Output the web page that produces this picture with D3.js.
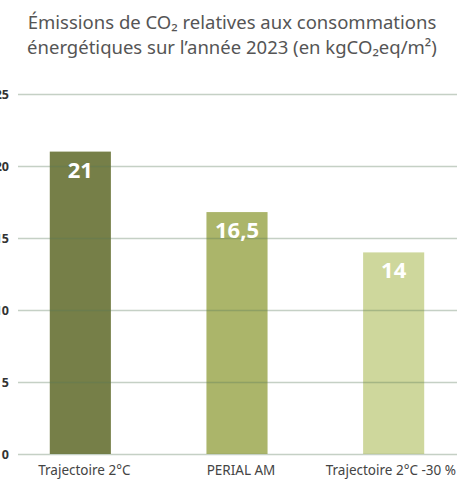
<!DOCTYPE html>
<html>
<head>
<meta charset="utf-8">
<script src="https://cdn.jsdelivr.net/npm/d3@7"></script>
<style>
  body { margin: 0; background: #fff; }
  svg { display: block; font-family: "Noto Sans", "Open Sans", sans-serif; }
</style>
</head>
<body>
<svg id="svg" width="457" height="479"></svg>
<script>
const w = 457;
const h = 479;

const categories = ["Trajectoire 2°C", "PERIAL AM", "Trajectoire 2°C -30 %"];
const values = [21, 16.8, 14];
const valueLabels = ["21", "16,5", "14"];
const barColors = ["#767f48", "#abb56a", "#ced79c"];
const yTicks = [0, 5, 10, 15, 20, 25];
const titleLines = [
  "Émissions de CO₂ relatives aux consommations",
  "énergétiques sur l’année 2023 (en kgCO₂eq/m²)"
];

let svg = d3.select("#svg");

let xScale = d3.scaleBand(categories, [2, 472]).paddingInner(0.61).paddingOuter(0.305);
let yScale = d3.scaleLinear([0, 25], [454, 94]);

// title
svg.append("g")
  .selectAll("text")
  .data(titleLines)
  .join("text")
  .attr("x", 232)
  .attr("y", (d, i) => 29 + i * 25)
  .attr("text-anchor", "middle")
  .attr("font-size", 18.5)
  .attr("fill", "#555")
  .text((d) => d);

// bars
svg.append("g")
  .selectAll("rect")
  .data(values)
  .join("rect")
  .attr("x", (d, i) => xScale(categories[i]))
  .attr("y", (d) => yScale(d))
  .attr("width", xScale.bandwidth())
  .attr("height", (d) => yScale(0) - yScale(d))
  .attr("fill", (d, i) => barColors[i]);

// gridlines drawn over the bars
let yAxis = d3.axisLeft(yScale).tickValues(yTicks).tickSize(-(w - 18)).tickPadding(9);
let gy = svg.append("g").attr("transform", "translate(18,0)").call(yAxis);
gy.select(".domain").remove();
gy.selectAll(".tick line")
  .attr("stroke", "rgba(90,120,90,0.35)")
  .attr("stroke-width", 1.6);
gy.selectAll(".tick text")
  .attr("font-size", 12.5)
  .attr("font-weight", "bold")
  .attr("fill", "#333")
  .attr("font-family", "'Noto Sans', sans-serif");

// value labels
svg.append("g")
  .selectAll("text")
  .data(values)
  .join("text")
  .attr("x", (d, i) => xScale(categories[i]) + xScale.bandwidth() / 2)
  .attr("y", (d) => yScale(d) + 26)
  .attr("text-anchor", "middle")
  .attr("font-size", 22)
  .attr("font-weight", "bold")
  .attr("fill", "#fff")
  .text((d, i) => valueLabels[i]);

// category labels (kept inside the right edge)
svg.append("g")
  .selectAll("text")
  .data(categories)
  .join("text")
  .attr("y", 475)
  .attr("text-anchor", "middle")
  .attr("font-size", 13.5)
  .attr("fill", "#444")
  .text((d) => d)
  .attr("x", function (d) {
    let half = this.getComputedTextLength() / 2;
    return Math.min(xScale(d) + xScale.bandwidth() / 2 + 4, w - 1 - half);
  });
</script>
</body>
</html>
